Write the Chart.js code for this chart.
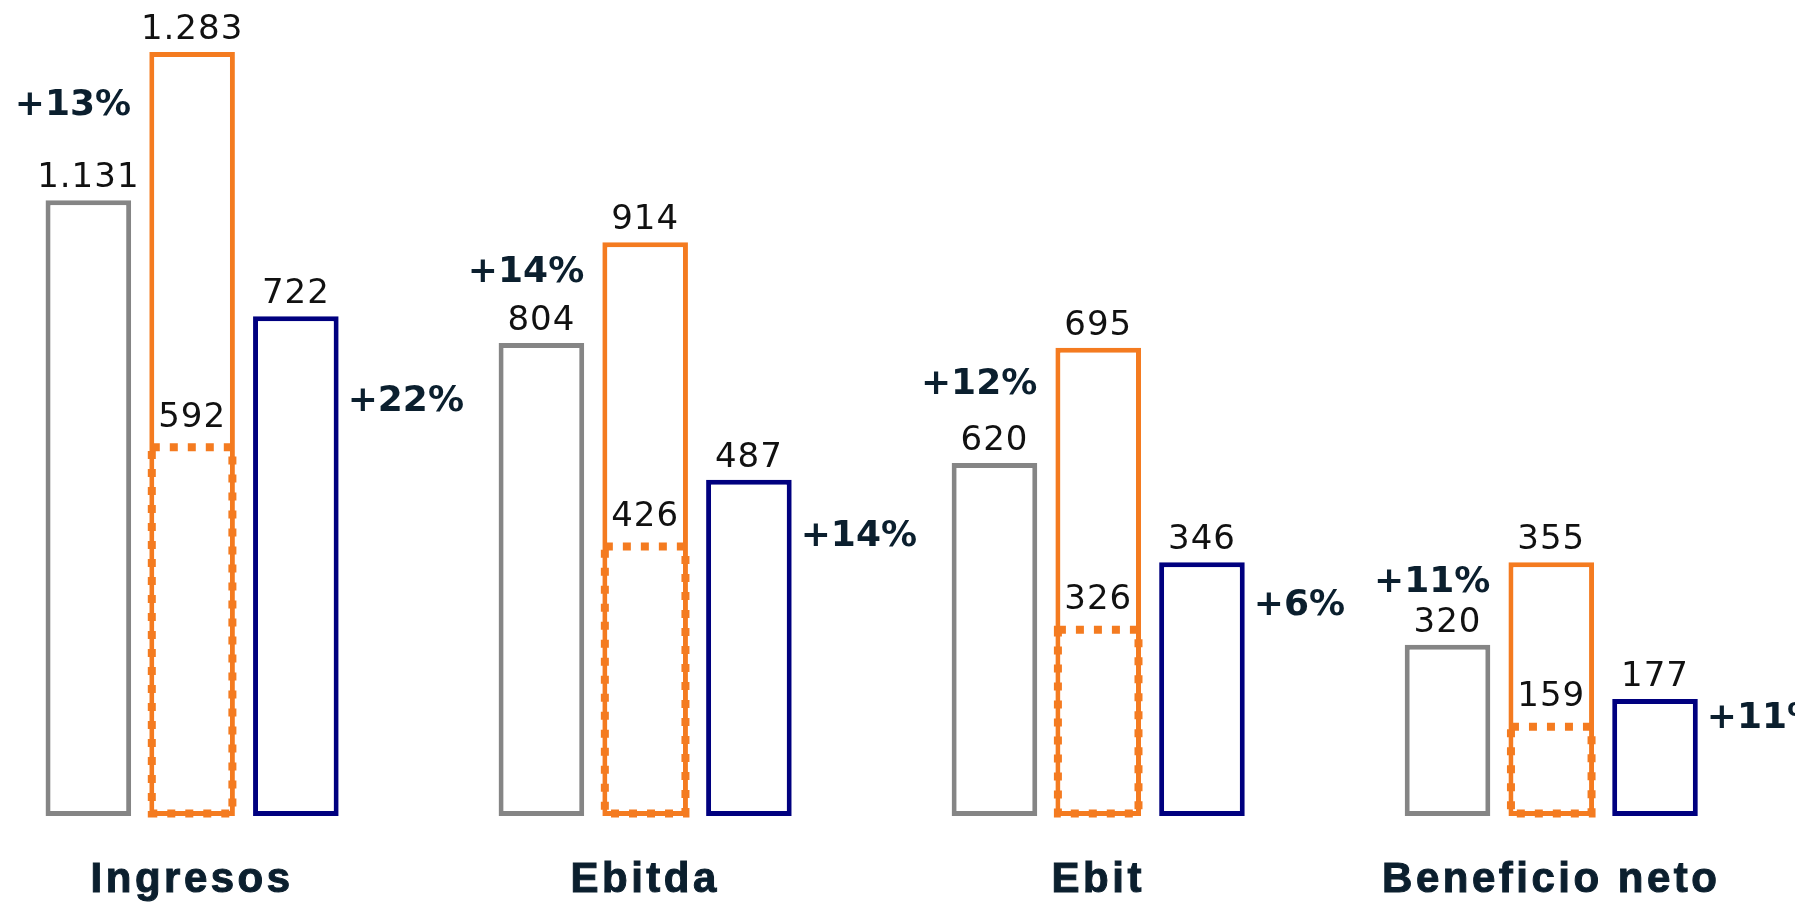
<!DOCTYPE html>
<html lang="es">
<head>
<meta charset="utf-8">
<title>Ingresos, Ebitda, Ebit y Beneficio neto</title>
<script src="https://cdn.jsdelivr.net/npm/chart.js@4/dist/chart.umd.min.js"></script>
<style>
  html, body { margin: 0; padding: 0; background: #fff; overflow: hidden; }
  /* a little taller than the window: the axis reserves its tick padding twice */
  #wrap { width: 1795px; height: 945px; position: relative; }
</style>
</head>
<body>
<div id="wrap"><canvas id="chart"></canvas></div>
<script>
// categories along the bottom
const categories = ['Ingresos', 'Ebitda', 'Ebit', 'Beneficio neto'];

// figures printed above the bars
const priorValues   = [1131, 804, 620, 320];   // gray
const currentValues = [1283, 914, 695, 355];   // orange, solid
const partialValues = [592, 426, 326, 159];    // orange, dotted
const periodValues  = [722, 487, 346, 177];    // navy

// growth labels
const growthTotal  = ['+13%', '+14%', '+12%', '+11%'];
const growthPeriod = ['+22%', '+14%', '+6%', '+11%'];

// the original is not drawn to scale: bar lengths,
// as % of the tallest bar
const priorLen   = [80.6, 61.9, 46.2, 22.4];
const currentLen = [100, 75.1, 61.3, 33.2];
const partialLen = [48.6, 35.6, 24.7, 12.0];
const periodLen  = [65.4, 44.0, 33.2, 15.3];

const GRAY = '#858585';
const ORANGE = '#F47B20';
const NAVY = '#00007F';
const DARK = '#0B1F2E';

const fmt = v => String(v).replace(/\B(?=(\d{3})+(?!\d))/g, '.');
const pts = arr => arr.map((v, i) => ({ x: i, y: v }));

// dataset order: prior, partial, current, period (partial sits over current)
const printed = [priorValues, partialValues, currentValues, periodValues];

const labelsPlugin = {
  id: 'labels',
  beforeDraw(chart) {
    chart.ctx.letterSpacing = '3.5px';
  },
  afterDatasetsDraw(chart) {
    const ctx = chart.ctx;
    const metas = [0, 1, 2, 3].map(i => chart.getDatasetMeta(i));
    ctx.save();

    // dotted outline for the partial bars
    ctx.strokeStyle = ORANGE;
    ctx.lineWidth = 8;
    ctx.setLineDash([8, 10]);
    metas[1].data.forEach(el => {
      const { x, y, base, width } = el.getProps(['x', 'y', 'base', 'width'], true);
      const inset = 2.5;
      ctx.strokeRect(x - width / 2 + inset, y + inset, width - inset * 2, base - y - inset * 2);
    });
    ctx.setLineDash([]);

    // value labels
    ctx.letterSpacing = '1px';
    ctx.fillStyle = '#111';
    ctx.font = '34px "DejaVu Sans"';
    ctx.textAlign = 'center';
    ctx.textBaseline = 'alphabetic';
    metas.forEach((meta, d) => {
      meta.data.forEach((el, i) => {
        const gap = d === 1 ? 18 : 13;
        ctx.fillText(fmt(printed[d][i]), el.x, el.y - gap);
      });
    });

    // growth labels
    ctx.letterSpacing = '0px';
    ctx.fillStyle = DARK;
    ctx.font = 'bold 36px "DejaVu Sans"';
    ctx.textBaseline = 'middle';
    categories.forEach((c, i) => {
      const g = metas[0].data[i];
      const o = metas[2].data[i];
      const n = metas[3].data[i];
      ctx.textAlign = 'right';
      ctx.fillText(growthTotal[i], g.x + g.width / 2, (g.y - 25 + o.y) / 2 - 8);
      ctx.textAlign = 'left';
      ctx.fillText(growthPeriod[i], n.x + n.width / 2 + 9, n.y + 0.17 * (n.base - n.y));
    });
    ctx.restore();
  }
};

const barStyle = color => ({
  backgroundColor: '#fff',
  borderColor: color,
  borderWidth: 5,
  borderSkipped: false
});

new Chart(document.getElementById('chart'), {
  type: 'bar',
  data: {
    datasets: [
      { label: 'Anterior', data: pts(priorLen), stack: 'a', ...barStyle(GRAY) },
      { label: 'Parcial', data: pts(partialLen), stack: 'b', backgroundColor: 'rgba(0,0,0,0)', borderWidth: 0 },
      { label: 'Actual', data: pts(currentLen), stack: 'b', ...barStyle(ORANGE) },
      { label: 'Periodo', data: pts(periodLen), stack: 'c', ...barStyle(NAVY) }
    ]
  },
  options: {
    responsive: true,
    maintainAspectRatio: false,
    animation: false,
    categoryPercentage: 0.687,
    barPercentage: 0.825,
    layout: { padding: { top: 52, bottom: 0.6, left: 0, right: 0 } },
    plugins: { legend: { display: false }, tooltip: { enabled: false } },
    scales: {
      x: {
        type: 'linear',
        offset: false,
        min: -0.424,
        max: 3.538,
        grid: { display: false, drawTicks: false },
        border: { display: false },
        afterBuildTicks: scale => { scale.ticks = categories.map((c, i) => ({ value: i })); },
        ticks: {
          autoSkip: false,
          maxRotation: 0,
          minRotation: 0,
          padding: 39,
          color: DARK,
          textStrokeColor: DARK,
          textStrokeWidth: 1,
          font: { family: '"Liberation Sans", Arial, sans-serif', size: 42, weight: 'bold' },
          callback: v => categories[v]
        }
      },
      y: {
        display: false,
        stacked: false,
        min: 0,
        max: 100
      }
    }
  },
  plugins: [labelsPlugin]
});
</script>
</body>
</html>
